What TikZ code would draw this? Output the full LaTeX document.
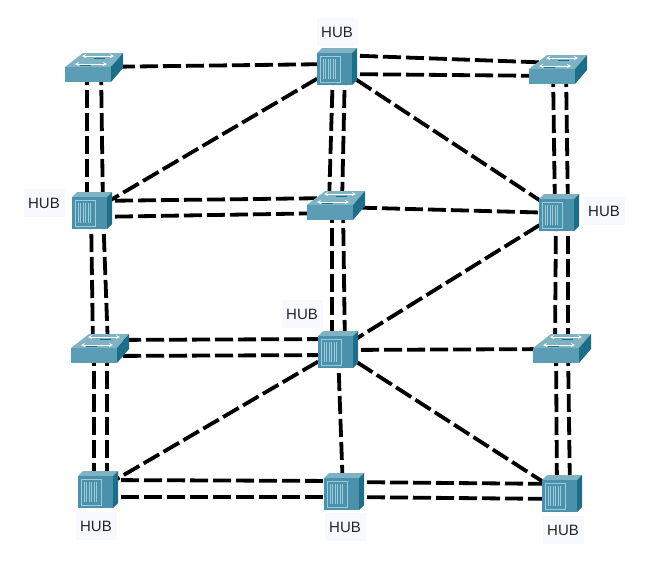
\documentclass[tikz,border=0pt]{standalone}
\usepackage{fontspec}
\setmainfont{Liberation Sans}
\usetikzlibrary{calc}
\definecolor{frontc}{HTML}{5B9DB5}
\definecolor{topc}{HTML}{7FB2C3}
\definecolor{sidec}{HTML}{1C6F88}
\definecolor{hubc}{HTML}{4C91AC}
\definecolor{lblc}{HTML}{F7F9FE}
\definecolor{panelc}{HTML}{9CCBD9}
\tikzset{
  device/.style={inner sep=0pt,minimum size=0pt},
  link/.style={line width=3.8pt,dash pattern=on 18pt off 5pt,black},
  lbl/.style={fill=lblc,inner sep=0pt,minimum width=41pt,minimum height=28pt,font=\fontsize{15}{17}\selectfont,text=black!85},
  panel/.style={draw=panelc,line width=.7pt}
}
\newcommand\lnk[4]{\draw[link] ($(#1)+(#2)$) -- ($(#3)+(#4)$);}
\newcommand\swdraw[1]{\begin{scope}[shift={(#1)}]
  \fill[topc] (-29,0) -- (-11,-14) -- (29,-14) -- (17,0) -- cycle;
  \fill[frontc] (-29,0) rectangle (17,15);
  \fill[sidec] (17,0) -- (29,-14) -- (29,1) -- (17,15) -- cycle;
  \draw[white,line width=.8pt,<->,>=stealth] (-12,-11) -- (20,-11);
  \draw[white,line width=.8pt,<->,>=stealth] (-19,-3) -- (13,-3);
  \draw[sidec,line width=.7pt] (-14,-2) -- (-3,-2) (0,-8.5) -- (11,-8.5);
\end{scope}}
\newcommand\hubdraw[1]{\begin{scope}[shift={(#1)}]
  \fill[topc] (-20,-14) -- (-15,-19) -- (20,-19) -- (15,-14) -- cycle;
  \fill[hubc] (-20,-14) rectangle (15,18);
  \fill[sidec] (15,-14) -- (20,-19) -- (20,13) -- (15,18) -- cycle;
  \draw[panel] (-17,-11) rectangle (3,15);
  \foreach \xx in {-14,-11.5,-9,-6.5,-4,-1.5} \draw[panel] (\xx,-8) -- (\xx,12);
\end{scope}}
\begin{document}
\begin{tikzpicture}[x=1pt,y=-1pt]
\useasboundingbox (0,0) rectangle (655,570);
\fill[white] (0,0) rectangle (655,570);
% device anchors
\node[device] (tl) at (94,67) {};
\node[device] (tr) at (558,69) {};
\node[device] (ms) at (336,205) {};
\node[device] (ls) at (100,348) {};
\node[device] (rs) at (562,348) {};
\node[device] (ht) at (337,67) {};
\node[device] (hl) at (92,211) {};
\node[device] (hr) at (559,213) {};
\node[device] (hc) at (338,350) {};
\node[device] (ba) at (98,490) {};
\node[device] (bb) at (344,492) {};
\node[device] (bc) at (562,494) {};
% connectors
\lnk{tl}{0,0}{ht}{0,-3}
\lnk{ht}{0,-12}{tr}{0,-6}
\lnk{ht}{0,7}{tr}{0,7}
\lnk{tl}{-7,0}{hl}{-5,0}
\lnk{tl}{7,0}{hl}{11,0}
\lnk{ht}{0,0}{hl}{0,0}
\lnk{ht}{-4,0}{ms}{-7,0}
\lnk{ht}{8,0}{ms}{6,0}
\lnk{ht}{0,0}{hr}{0,0}
\lnk{tr}{-5,0}{hr}{-4,0}
\lnk{tr}{8,0}{hr}{9,0}
\lnk{hl}{0,-10}{ms}{0,-7}
\lnk{hl}{0,6}{ms}{0,8}
\lnk{ms}{0,2}{hr}{0,0}
\lnk{hl}{-1,0}{ls}{-7,0}
\lnk{hl}{11,0}{ls}{8,0}
\lnk{ms}{-4,0}{hc}{-6,0}
\lnk{ms}{7,0}{hc}{7,0}
\lnk{hr}{0,0}{hc}{0,0}
\lnk{hr}{-3,0}{rs}{-7,0}
\lnk{hr}{9,0}{rs}{6,0}
\lnk{ls}{0,-8}{hc}{0,-11}
\lnk{ls}{0,8}{hc}{0,5}
\lnk{hc}{0,0}{rs}{0,1}
\lnk{ls}{-6,0}{ba}{-4,0}
\lnk{ls}{7,0}{ba}{9,0}
\lnk{hc}{0,0}{ba}{0,0}
\lnk{hc}{0,0}{bb}{-1,0}
\lnk{hc}{0,0}{bc}{0,0}
\lnk{rs}{-6,0}{bc}{-5,0}
\lnk{rs}{6,0}{bc}{8,0}
\lnk{ba}{0,-10}{bb}{0,-11}
\lnk{ba}{0,7}{bb}{0,5}
\lnk{bb}{0,-10}{bc}{0,-10}
\lnk{bb}{0,5}{bc}{0,5}
% labels
\node[lbl] (la) at (337,32) {HUB};
\node[lbl] (lb) at (44,203) {HUB};
\node[lbl] (lc) at (604,211) {HUB};
\node[lbl] (ld) at (302,314) {HUB};
\node[lbl] (le) at (96,526) {HUB};
\node[lbl] (lf) at (345,527) {HUB};
\node[lbl] (lg) at (563,530) {HUB};
% devices
\swdraw{tl}\swdraw{tr}\swdraw{ms}\swdraw{ls}\swdraw{rs}
\hubdraw{ht}\hubdraw{hl}\hubdraw{hr}\hubdraw{hc}\hubdraw{ba}\hubdraw{bb}\hubdraw{bc}
\end{tikzpicture}
\end{document}
